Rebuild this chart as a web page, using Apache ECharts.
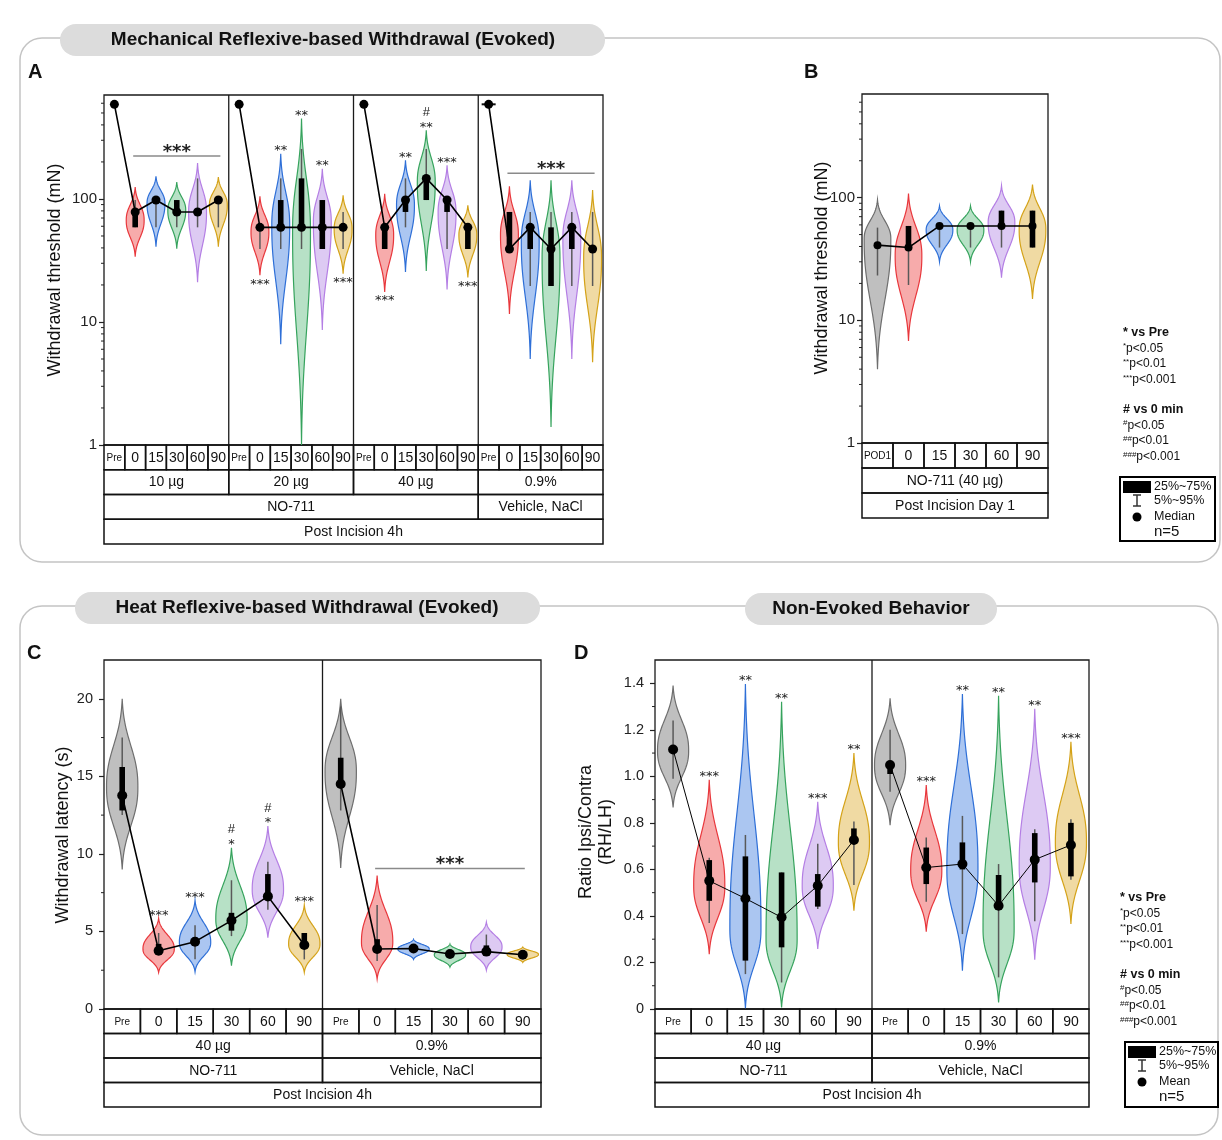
<!DOCTYPE html>
<html>
<head>
<meta charset="utf-8">
<script src="https://cdn.jsdelivr.net/npm/echarts/dist/echarts.min.js"></script>
<style>
html,body{margin:0;padding:0;background:#fff}
#chart{width:1222px;height:1140px}
</style>
</head>
<body>
<div id="chart"></div>
<script>
// violin figure: evoked / non-evoked pain behaviour after NO-711
const FONT = '"Liberation Sans", Arial, Helvetica, sans-serif';
const STARFONT = '"DejaVu Sans", sans-serif';
const STROKE = ['#6e6e6e', '#e8373c', '#2e6fd7', '#36a35d', '#b47ee4', '#d4a218'];
const FILL = ['#bfbfbf', '#f7abab', '#abc6f1', '#b7e1c6', '#ddcaf3', '#f0daa3'];
const K = 3.5, PW = 2.4, VW = 0.86;

const timeCats = ['Pre', '0', '15', '30', '60', '90'];

// ---------- A: mechanical threshold (mN), 4 doses x 6 times ----------
const catsA = [].concat(timeCats, timeCats, timeCats, timeCats);
const doseA = ['10 µg', '20 µg', '40 µg', '0.9%'];
const drugA = [['NO-711', 3], ['Vehicle, NaCl', 1]];
const medianA = [588, 78.4, 98, 78.4, 78.4, 98,  588, 58.8, 58.8, 58.8, 58.8, 58.8,  588, 58.8, 98, 147, 98, 58.8,  588, 39.2, 58.8, 39.2, 58.8, 39.2];
const topA  = [null, 125, 153, 137, 196, 151,  null, 105, 233, 450, 176, 107,  null, 110, 206, 362, 188, 89,  null, 127, 142, 142, 142, 118];
const botA  = [null, 34, 41, 39.5, 21, 41,  null, 24, 6.6, 1.0, 8.6, 24.7,  null, 17.5, 25.5, 26, 18.4, 23,  null, 11.6, 5.0, 1.4, 5.0, 4.7];
const peakA = [null, 67, 92, 81, 78, 89,  null, 54, 61, 54, 65, 57,  null, 51, 89, 137, 78, 51,  null, 51, 45, 33, 48, 33];
const q1A  = [null, 58.8, null, 78.4, null, null,  null, null, 58.8, 58.8, 39.2, null,  null, 39.2, 78.4, 98, 78.4, 39.2,  588, 39.2, 39.2, 19.6, 39.2, null];
const q3A  = [null, 78.4, null, 98, null, null,  null, null, 98, 147, 98, null,  null, 58.8, 98, 147, 98, 58.8,  588, 78.4, 58.8, 58.8, 58.8, null];
const p5A  = [null, 58.8, 58.8, 58.8, 58.8, 58.8,  null, 39.2, 39.2, 39.2, 39.2, 39.2,  null, 39.2, 58.8, 98, 39.2, 39.2,  null, 39.2, 19.6, 19.6, 19.6, 19.6];
const p95A = [null, 98, 98, 98, 147, 98,  null, 58.8, 147, 255, 98, 78.4,  null, 58.8, 147, 255, 98, 58.8,  null, 78.4, 78.4, 78.4, 78.4, 78.4];
const sigA  = ['', '', '', '', '', '',  '', '***', '**', '**', '**', '***',  '', '***', '**', '**', '***', '***',  '', '', '', '', '', ''];
const sideA = [0, 0, 0, 0, 0, 0,  0, -1, 1, 1, 1, -1,  0, -1, 1, 1, 1, -1,  0, 0, 0, 0, 0, 0];
const hashA = ['', '', '', '', '', '',  '', '', '', '', '', '',  '', '', '', '#', '', '',  '', '', '', '', '', ''];
const bracketA = [[1, 5], [19, 23]];
const minorLog = [2, 3, 4, 5, 6, 7, 8, 9, 20, 30, 40, 50, 60, 70, 80, 90, 200, 300, 400, 500, 600];

// ---------- B: POD1, NO-711 40 µg ----------
const catsB = ['POD1', '0', '15', '30', '60', '90'];
const medianB = [41, 39.2, 58.8, 58.8, 58.8, 58.8];
const topB  = [96, 108, 85.6, 85.6, 125, 128];
const botB  = [4.0, 6.8, 30, 30, 22.3, 14.9];
const peakB = [45.8, 33.6, 54.6, 54.6, 62.6, 55];
const q1B  = [null, 39.2, null, null, 58.8, 39.2];
const q3B  = [null, 58.8, null, null, 78.4, 78.4];
const p5B  = [23.2, 19.4, 39.2, 39.2, 39.2, 39.2];
const p95B = [57, 58.8, 58.8, 58.8, 78.4, 78.4];

// ---------- C: heat latency (s) ----------
const catsC = [].concat(timeCats, timeCats);
const doseC = ['40 µg', '0.9%'];
const drugC = [['NO-711', 1], ['Vehicle, NaCl', 1]];
const medianC = [13.76, 3.76, 4.34, 5.7, 7.26, 4.13,  14.5, 3.87, 3.9, 3.55, 3.7, 3.5];
const topC  = [20.0, 5.85, 7.0, 10.4, 11.8, 6.7,  20.0, 8.6, 4.5, 4.2, 5.6, 4.0];
const botC  = [9.0, 2.36, 2.4, 2.8, 4.6, 2.36,  9.1, 1.94, 3.2, 2.7, 2.5, 3.0];
const peakC = [14.3, 3.87, 4.3, 5.8, 7.7, 4.2,  15.3, 4.3, 3.87, 3.5, 4.0, 3.52];
const q1C  = [12.8, 3.6, 4.2, 5.05, 7.2, 4.2,  14.5, 3.9, null, null, 3.6, null];
const q3C  = [15.6, 4.2, 4.6, 6.2, 8.7, 4.9,  16.2, 4.5, null, null, 4.1, null];
const p5C  = [12.5, 3.5, 3.2, 4.7, 6.4, 3.2,  12.8, 3.1, null, null, 3.5, null];
const p95C = [17.5, 4.9, 5.4, 8.3, 9.5, 4.9,  19.5, 6.7, null, null, 4.8, null];
const sigC  = ['', '***', '***', '*', '*', '***',  '', '', '', '', '', ''];
const sideC = [0, 1, 1, 1, 1, 1,  0, 0, 0, 0, 0, 0];
const hashC = ['', '', '', '#', '#', '',  '', '', '', '', '', ''];
const bracketC = [[7, 11]];
const minorC = [2.5, 7.5, 12.5, 17.5];

// ---------- D: ratio ipsi/contra (mean) ----------
const catsD = [].concat(timeCats, timeCats);
const meanD = [1.115, 0.551, 0.475, 0.394, 0.53, 0.726,  1.049, 0.608, 0.623, 0.444, 0.642, 0.705];
const topD  = [1.39, 0.985, 1.397, 1.32, 0.891, 1.10,  1.335, 0.963, 1.354, 1.346, 1.29, 1.149];
const botD  = [0.866, 0.236, 0.003, 0.007, 0.258, 0.422,  0.79, 0.332, 0.165, 0.028, 0.212, 0.365];
const peakD = [1.11, 0.53, 0.344, 0.30, 0.53, 0.716,  1.046, 0.594, 0.60, 0.344, 0.616, 0.716];
const q1D  = [null, 0.465, 0.208, 0.265, 0.44, 0.723,  1.01, 0.537, 0.60, 0.444, 0.544, 0.57];
const q3D  = [null, 0.64, 0.656, 0.587, 0.58, 0.776,  1.046, 0.694, 0.716, 0.576, 0.756, 0.80];
const p5D  = [0.99, 0.37, 0.15, 0.114, 0.43, 0.533,  0.934, 0.461, 0.322, 0.136, 0.377, 0.556];
const p95D = [1.24, 0.65, 0.748, 0.587, 0.71, 0.806,  1.2, 0.737, 0.83, 0.623, 0.773, 0.816];
const sigD  = ['', '***', '**', '**', '***', '**',  '', '***', '**', '**', '**', '***'];
const sideD = [0, 1, 1, 1, 1, 1,  0, 1, 1, 1, 1, 1];
const minorD = [0.1, 0.3, 0.5, 0.7, 0.9, 1.1, 1.3];

function cellRow(cats) {
  return cats.map(c => [c, 1, (c === 'Pre' || c === 'POD1') ? 10 : 14]);
}

const panels = [
  { left: 104, top: 95, width: 499, height: 350, log: true, min: 1, max: 700, fs: 15, margin: 7,
    cats: catsA, center: medianA, vtop: topA, vbot: botA, peak: peakA, q1: q1A, q3: q3A, p5: p5A, p95: p95A,
    sig: sigA, side: sideA, hash: hashA, brackets: bracketA, minor: minorLog, dot: 9, lw: 1.6,
    rowH: 24.75,
    rows: [cellRow(catsA), doseA.map(d => [d, 6]), drugA.map(d => [d[0], d[1] * 6]), [['Post Incision 4h', 24]]] },
  { left: 862, top: 94, width: 186, height: 349, log: true, min: 1, max: 700, fs: 15, margin: 7,
    cats: catsB, center: medianB, vtop: topB, vbot: botB, peak: peakB, q1: q1B, q3: q3B, p5: p5B, p95: p95B,
    minor: minorLog, dot: 8, lw: 1.6, rowH: 25,
    rows: [cellRow(catsB), [['NO-711 (40 µg)', 6]], [['Post Incision Day 1', 6]]] },
  { left: 104, top: 660, width: 437, height: 349, log: false, min: 0, max: 22.5, interval: 5, fs: 14.5, margin: 11,
    cats: catsC, center: medianC, vtop: topC, vbot: botC, peak: peakC, q1: q1C, q3: q3C, p5: p5C, p95: p95C,
    sig: sigC, side: sideC, hash: hashC, brackets: bracketC, minor: minorC, dot: 10, lw: 1.6, rowH: 24.5,
    rows: [cellRow(catsC), doseC.map(d => [d, 6]), drugC.map(d => [d[0], d[1] * 6]), [['Post Incision 4h', 12]]] },
  { left: 655, top: 660, width: 434, height: 349, log: false, min: 0, max: 1.5, interval: 0.2, fs: 14.5, margin: 11,
    fmt: v => v === 0 ? '0' : v.toFixed(1),
    cats: catsD, center: meanD, vtop: topD, vbot: botD, peak: peakD, q1: q1D, q3: q3D, p5: p5D, p95: p95D,
    sig: sigD, side: sideD, minor: minorD, dot: 10, lw: 1, rowH: 24.5,
    rows: [cellRow(catsD), doseC.map(d => [d, 6]), drugC.map(d => [d[0], d[1] * 6]), [['Post Incision 4h', 12]]] }
];

function violinRender(p) {
  return function (params, api) {
    const i = api.value(0);
    const cs = params.coordSys;
    const band = cs.width / p.cats.length;
    const cx = cs.x + band * (i + 0.5);
    const Y = v => api.coord([i, v])[1];
    const c = i % 6;
    const kids = [];
    if (p.vtop[i] != null) {
      const yT = Y(p.vtop[i]), yB = Y(p.vbot[i]), yP = Y(p.peak[i]);
      const hw = band / 2 * VW;
      const ek = Math.exp(-K);
      const left = [], right = [];
      const N = 100;
      for (let s = 0; s <= N; s++) {
        const y = yT + (yB - yT) * s / N;
        const u = y < yP ? (yP - y) / Math.max(yP - yT, 1e-6) : (y - yP) / Math.max(yB - yP, 1e-6);
        const w = hw * (Math.exp(-K * Math.pow(u, PW)) - ek) / (1 - ek);
        left.push([cx - w, y]);
        right.unshift([cx + w, y]);
      }
      kids.push({ type: 'polygon', shape: { points: left.concat(right) },
        style: { fill: FILL[c], stroke: STROKE[c], lineWidth: 1.2 } });
      if (p.sig && p.sig[i]) {
        const up = p.side[i] > 0;
        const vy = up ? yT - 6 : yB + 6;
        kids.push({ type: 'text', style: { text: p.sig[i], x: cx, y: vy + 3, align: 'center', verticalAlign: 'middle',
          fontFamily: STARFONT, fontSize: 13, fill: '#222' } });
        if (p.hash && p.hash[i]) {
          kids.push({ type: 'text', style: { text: p.hash[i], x: cx, y: vy - 12, align: 'center', verticalAlign: 'middle',
            fontFamily: FONT, fontSize: 13, fill: '#222' } });
        }
      }
    }
    if (p.p5[i] != null) {
      kids.push({ type: 'line', shape: { x1: cx, y1: Y(p.p5[i]), x2: cx, y2: Y(p.p95[i]) },
        style: { stroke: '#595959', lineWidth: 1.5 } });
    }
    if (p.q1[i] != null) {
      const y1 = Y(p.q3[i]), y2 = Y(p.q1[i]);
      if (y2 - y1 < 1) {
        kids.push({ type: 'rect', shape: { x: cx - 7, y: y1 - 1, width: 14, height: 2 }, style: { fill: '#111' } });
      } else {
        kids.push({ type: 'rect', shape: { x: cx - 2.8, y: y1, width: 5.6, height: y2 - y1 }, style: { fill: '#000' } });
      }
    }
    return { type: 'group', children: kids };
  };
}

function minorRender(p) {
  return function (params, api) {
    const y = api.coord([0, api.value(1)])[1];
    const x0 = params.coordSys.x;
    return { type: 'line', shape: { x1: x0 - 3, y1: y, x2: x0, y2: y }, style: { stroke: '#222', lineWidth: 1 } };
  };
}

function bracketRender(p) {
  return function (params, api) {
    const [s, e] = p.brackets[params.dataIndex];
    const cs = params.coordSys;
    const band = cs.width / p.cats.length;
    let yMin = Infinity;
    for (let i = s; i <= e; i++) {
      if (p.vtop[i] != null) yMin = Math.min(yMin, api.coord([i, p.vtop[i]])[1]);
    }
    const y = yMin - 7;
    const x1 = cs.x + band * (s + 0.5) - 2, x2 = cs.x + band * (e + 0.5) + 2;
    return { type: 'group', children: [
      { type: 'line', shape: { x1, y1: y, x2, y2: y }, style: { stroke: '#8a8a8a', lineWidth: 1.5 } },
      { type: 'text', style: { text: '***', x: (x1 + x2) / 2, y: y - 4, align: 'center', verticalAlign: 'middle',
        fontFamily: STARFONT, fontSize: 18, fontWeight: 'bold', fill: '#222' } }
    ] };
  };
}

const grids = [], xAxes = [], yAxes = [], series = [], elements = [];

panels.forEach((p, gi) => {
  grids.push({ left: p.left, top: p.top, width: p.width, height: p.height, show: true,
    borderColor: '#1a1a1a', borderWidth: 1.3 });
  xAxes.push({ type: 'category', gridIndex: gi, data: p.cats, boundaryGap: true,
    axisLine: { show: false }, axisTick: { show: false }, axisLabel: { show: false }, splitLine: { show: false } });
  const y = { type: p.log ? 'log' : 'value', gridIndex: gi, min: p.min, max: p.max,
    axisLine: { show: false }, splitLine: { show: false },
    axisTick: { show: true, length: 5, lineStyle: { color: '#222', width: 1.2 } },
    axisLabel: { fontSize: p.fs, fontFamily: FONT, color: '#222', margin: p.margin, showMaxLabel: false } };
  if (p.log) y.logBase = 10;
  if (p.interval) y.interval = p.interval;
  if (p.fmt) y.axisLabel.formatter = p.fmt;
  yAxes.push(y);

  series.push({ type: 'custom', xAxisIndex: gi, yAxisIndex: gi, renderItem: violinRender(p),
    data: p.center.map((v, i) => [i, v]), encode: { x: 0, y: 1 }, z: 2, silent: true, clip: false });
  for (let g = 0; g < p.cats.length; g += 6) {
    const pts = [];
    for (let i = g; i < g + 6; i++) pts.push([i, p.center[i]]);
    series.push({ type: 'line', xAxisIndex: gi, yAxisIndex: gi, data: pts, symbol: 'circle', symbolSize: p.dot,
      showSymbol: true, lineStyle: { color: '#000', width: p.lw }, itemStyle: { color: '#000' }, z: 5, silent: true });
  }
  series.push({ type: 'custom', xAxisIndex: gi, yAxisIndex: gi, renderItem: minorRender(p),
    data: p.minor.map(v => [0, v]), encode: { x: 0, y: 1 }, z: 3, silent: true, clip: false });
  if (p.brackets) {
    series.push({ type: 'custom', xAxisIndex: gi, yAxisIndex: gi, renderItem: bracketRender(p),
      data: p.brackets.map(b => [b[0], p.center[b[0]]]), encode: { x: 0, y: 1 }, z: 4, silent: true, clip: false });
  }

  // group dividers inside the plot
  const nG = p.cats.length / 6;
  for (let k = 1; k < nG; k++) {
    const x = p.left + p.width * k / nG;
    elements.push({ type: 'line', shape: { x1: x, y1: p.top, x2: x, y2: p.top + p.height },
      style: { stroke: '#1a1a1a', lineWidth: 1.3 }, z: 1 });
  }
  // category table under the axis
  const y0 = p.top + p.height;
  p.rows.forEach((row, r) => {
    const total = row.reduce((s, c) => s + c[1], 0);
    let k = 0;
    row.forEach(([label, span, fs]) => {
      const x = p.left + p.width * k / total, w = p.width * span / total;
      const yy = y0 + r * p.rowH;
      elements.push({ type: 'rect', shape: { x, y: yy, width: w, height: p.rowH },
        style: { fill: 'none', stroke: '#111', lineWidth: 1.5 }, z: 1 });
      elements.push({ type: 'text', x: x + w / 2, y: yy + p.rowH / 2 + 0.5,
        style: { text: label, align: 'center', verticalAlign: 'middle', fontSize: fs || 14, fontFamily: FONT, fill: '#111' }, z: 2 });
      k += span;
    });
  });
});

// frames and section pills
elements.push(
  { type: 'rect', shape: { x: 20, y: 38, width: 1200, height: 524, r: 22 }, style: { fill: 'none', stroke: '#c4c4c4', lineWidth: 1.5 }, z: 0 },
  { type: 'rect', shape: { x: 20, y: 606, width: 1198, height: 529, r: 22 }, style: { fill: 'none', stroke: '#c4c4c4', lineWidth: 1.5 }, z: 0 },
  { type: 'rect', shape: { x: 60, y: 24, width: 545, height: 32, r: 16 }, style: { fill: '#dcdcdc' }, z: 1 },
  { type: 'rect', shape: { x: 75, y: 592, width: 465, height: 32, r: 16 }, style: { fill: '#dcdcdc' }, z: 1 },
  { type: 'rect', shape: { x: 745, y: 593, width: 252, height: 32, r: 16 }, style: { fill: '#dcdcdc' }, z: 1 }
);
[['Mechanical Reflexive-based Withdrawal (Evoked)', 333, 40], ['Heat Reflexive-based Withdrawal (Evoked)', 307, 608],
 ['Non-Evoked Behavior', 871, 609]].forEach(([t, x, y]) => {
  elements.push({ type: 'text', x, y, style: { text: t, align: 'center', verticalAlign: 'middle', fontSize: 19,
    fontWeight: 'bold', fontFamily: FONT, fill: '#111' }, z: 2 });
});
[['A', 28, 62], ['B', 804, 62], ['C', 27, 643], ['D', 574, 643]].forEach(([t, x, y]) => {
  elements.push({ type: 'text', x, y, style: { text: t, fontSize: 20, fontWeight: 'bold', fontFamily: FONT, fill: '#111' }, z: 2 });
});
// axis titles
[['Withdrawal threshold (mN)', 55, 270], ['Withdrawal threshold (mN)', 822, 268], ['Withdrawal latency (s)', 63, 835],
 ['Ratio Ipsi/Contra\n(RH/LH)', 596, 832]].forEach(([t, x, y]) => {
  elements.push({ type: 'text', x, y, rotation: Math.PI / 2,
    style: { text: t, align: 'center', verticalAlign: 'middle', fontSize: 18, lineHeight: 20, fontFamily: FONT, fill: '#111' }, z: 2 });
});

function sigLegend(x, y) {
  const rows = [['{b|* vs Pre}', 0], ['{s|*}p<0.05', 15.5], ['{s|**}p<0.01', 31], ['{s|***}p<0.001', 47],
    ['{b|# vs 0 min}', 77], ['{s|#}p<0.05', 92.5], ['{s|##}p<0.01', 108], ['{s|###}p<0.001', 124]];
  rows.forEach(([t, dy]) => {
    elements.push({ type: 'text', x, y: y + dy, style: { text: t, fontFamily: FONT, fontSize: 12, fill: '#111',
      verticalAlign: 'middle', rich: { b: { fontSize: 12.5, fontWeight: 'bold', fontFamily: FONT, fill: '#111' },
        s: { fontSize: 8, fontFamily: FONT, fill: '#111', padding: [0, 0, 5, 0] } } }, z: 2 });
  });
}
function boxLegend(x, y, w, h, centre) {
  elements.push(
    { type: 'rect', shape: { x, y, width: w, height: h }, style: { fill: '#fff', stroke: '#000', lineWidth: 2 }, z: 2 },
    { type: 'rect', shape: { x: x + 3, y: y + 4, width: 28, height: 12 }, style: { fill: '#000' }, z: 3 },
    { type: 'line', shape: { x1: x + 17, y1: y + 18, x2: x + 17, y2: y + 29 }, style: { stroke: '#333', lineWidth: 1.5 }, z: 3 },
    { type: 'line', shape: { x1: x + 13, y1: y + 18, x2: x + 21, y2: y + 18 }, style: { stroke: '#333', lineWidth: 1.5 }, z: 3 },
    { type: 'line', shape: { x1: x + 13, y1: y + 29, x2: x + 21, y2: y + 29 }, style: { stroke: '#333', lineWidth: 1.5 }, z: 3 },
    { type: 'circle', shape: { cx: x + 17, cy: y + 40, r: 4.5 }, style: { fill: '#000' }, z: 3 }
  );
  [['25%~75%', 10, 12.5], ['5%~95%', 24, 12.5], [centre, 40, 12.5], ['n=5', 55, 15]].forEach(([t, dy, fs]) => {
    elements.push({ type: 'text', x: x + 34, y: y + dy, style: { text: t, fontSize: fs, fontFamily: FONT, fill: '#111',
      verticalAlign: 'middle' }, z: 3 });
  });
}
sigLegend(1123, 333);
boxLegend(1120, 477, 95, 64, 'Median');
sigLegend(1120, 898);
boxLegend(1125, 1042, 93, 65, 'Mean');

const chart = echarts.init(document.getElementById('chart'));
chart.setOption({
  backgroundColor: '#fff',
  animation: false,
  grid: grids,
  xAxis: xAxes,
  yAxis: yAxes,
  series: series,
  graphic: { elements: elements }
});
</script>
</body>
</html>
